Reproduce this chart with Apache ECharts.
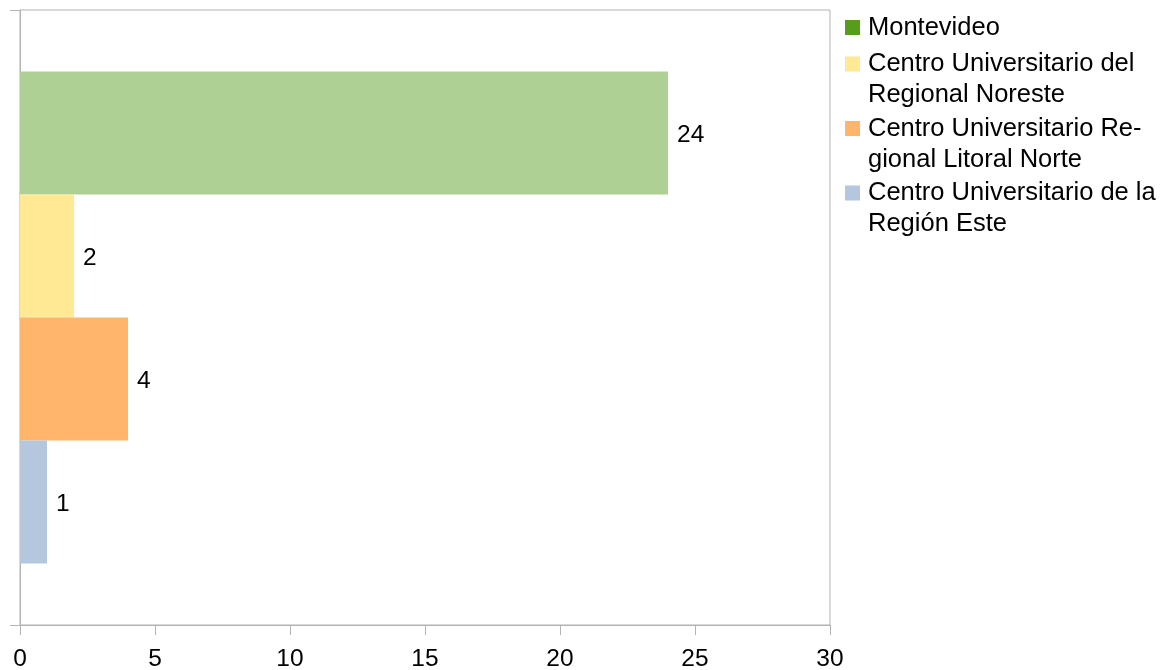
<!DOCTYPE html>
<html>
<head>
<meta charset="utf-8">
<script src="https://cdn.jsdelivr.net/npm/echarts@6/dist/echarts.min.js"></script>
<style>
html,body{margin:0;padding:0;background:#fff;}
#chart{width:1163px;height:670px;}
</style>
</head>
<body>
<div id="chart"></div>
<script>
const categories = [''];
const seriesNames = [
  'Montevideo',
  'Centro Universitario del Regional Noreste',
  'Centro Universitario Regional Litoral Norte',
  'Centro Universitario de la Región Este'
];
const legendLabels = [
  'Montevideo',
  'Centro Universitario del\nRegional Noreste',
  'Centro Universitario Re-\ngional Litoral Norte',
  'Centro Universitario de la\nRegión Este'
];
const seriesValues = [24, 2, 4, 1];
const barColors = ['#afd095', '#ffe994', '#ffb66c', '#b4c7dc'];
const legendColors = ['#579d1c', '#ffe994', '#ffb66c', '#b4c7dc'];
const xTicks = [0, 5, 10, 15, 20, 25, 30];

const FONT = 'Liberation Sans';
const FS = 24.5;
const LFS = 25.5;
const LH = 31;
const twoLineIcon = 'path://M0,0h0.01M0,' + (LH/2 - 7.5) + 'h15v15h-15zM0,' + (2*LH) + 'h0.01';

const chart = echarts.init(document.getElementById('chart'), null, {renderer: 'canvas'});
const labelMap = {};
seriesNames.forEach((n, i) => labelMap[n] = legendLabels[i]);

const legendText = {fontFamily: FONT, fontSize: LFS, color: '#000', lineHeight: LH, padding: [0, 0, 0, 3]};

const option = {
  animation: false,
  textStyle: {fontFamily: FONT},
  grid: {left: 20, right: 333, top: 10, bottom: 45, show: true, borderColor: '#b3b3b3', borderWidth: 1,
         containLabel: false, outerBoundsMode: 'none'},
  legend: [
    {
      orient: 'vertical', left: 845, top: 12, padding: 0,
      itemWidth: 15, itemHeight: 15, itemGap: 0, icon: 'rect',
      textStyle: legendText,
      formatter: n => labelMap[n],
      data: [{name: seriesNames[0], itemStyle: {color: legendColors[0]}}]
    },
    {
      orient: 'vertical', left: 845, top: 48.5, padding: 0,
      itemWidth: 15, itemHeight: 2*LH, itemGap: 2.5, icon: twoLineIcon,
      textStyle: legendText,
      formatter: n => labelMap[n],
      data: seriesNames.slice(1).map((n, i) => ({name: n, itemStyle: {color: legendColors[i+1]}}))
    }
  ],
  xAxis: {
    type: 'value', min: 0, max: 30, interval: 5,
    axisLine: {show: true, lineStyle: {color: '#b3b3b3'}},
    axisTick: {show: true, length: 10, lineStyle: {color: '#b3b3b3'}},
    splitLine: {show: false},
    axisLabel: {color: '#000', fontFamily: FONT, fontSize: FS, margin: 22,
      formatter: v => xTicks.indexOf(v) >= 0 ? String(v) : ''}
  },
  yAxis: {
    type: 'category', data: categories,
    axisLine: {show: true, lineStyle: {color: '#b3b3b3'}},
    axisTick: {show: true, length: 10, lineStyle: {color: '#b3b3b3'}},
    axisLabel: {show: false},
    splitLine: {show: false}
  },
  series: seriesNames.map((n, i) => ({
    name: n, type: 'bar',
    data: [seriesValues[i]],
    barGap: '0%', barCategoryGap: '20%',
    itemStyle: {color: barColors[i]},
    label: {show: true, position: 'right', distance: 9, offset: [0, 2], color: '#000', fontFamily: FONT, fontSize: FS}
  }))
};
chart.setOption(option);
</script>
</body>
</html>
